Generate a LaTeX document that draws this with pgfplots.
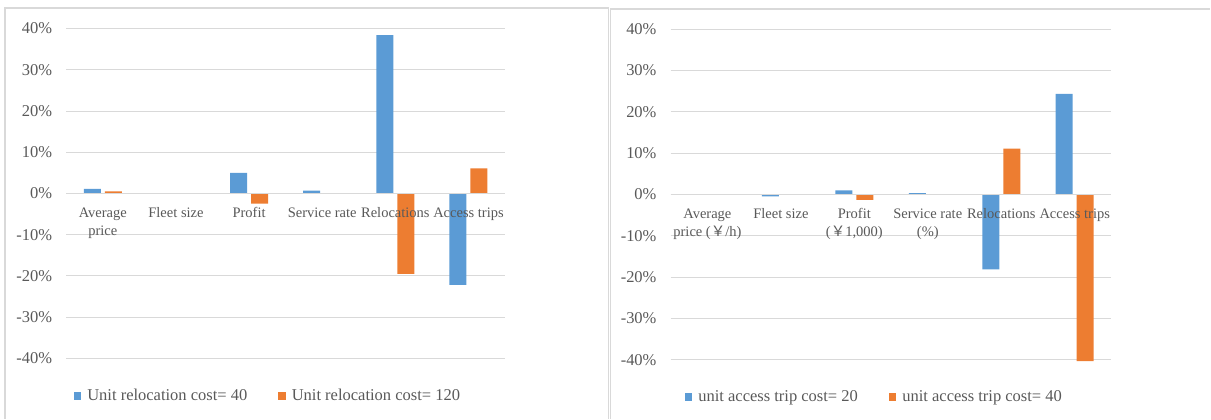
\documentclass[border=0pt]{standalone}
\usepackage{fontspec}
\setmainfont{Liberation Serif}
\newfontfamily\cjk{Noto Sans CJK SC}
\usepackage{pgfplots}
\pgfplotsset{compat=1.18}
\usepackage{pgfplotstable}

\definecolor{barblue}{HTML}{5B9BD5}
\definecolor{barorange}{HTML}{ED7D31}
\definecolor{gridgray}{HTML}{D9D9D9}
\definecolor{textgray}{HTML}{595959}
\definecolor{framegray}{HTML}{D9D9D9}

% horizontal gridlines behind the bars
\tikzset{hgrid/.style={gridgray, line width=0.75bp}}

% Percentage change of each indicator, relocation cost scenarios
\pgfplotstableread{
idx a b
0 1.1 0.5
1 0 0
2 5.0 -2.5
3 0.65 0
4 38.4 -19.5
5 -22.2 6.1
}\relocdata

% Percentage change of each indicator, access trip cost scenarios
\pgfplotstableread{
idx a b
0 0 0
1 -0.5 0
2 1.0 -1.3
3 0.3 0
4 -18.1 11.1
5 24.3 -40.3
}\accessdata

\pgfplotsset{
  deltastyle/.style={
    axis on top,
    scale only axis,
    ybar=4bp, bar width=17bp,
    xmin=-0.5, xmax=5.5, ymin=-40, ymax=40,
    xtick={0,...,5}, ytick={-40,-30,...,40},
    yticklabels={-40\%,-30\%,-20\%,-10\%,0\%,10\%,20\%,30\%,40\%},
    axis x line*=middle, axis y line*=left,
    hide obscured y ticks=false, hide obscured x ticks=false,
    x axis line style={draw=gridgray, line width=0.75bp},
    y axis line style={draw=none},
    major tick length=0pt,
    tick label style={text=textgray},
    yticklabel style={font=\fontsize{16.5bp}{19bp}\selectfont, anchor=east, inner sep=0pt, xshift=-14bp},
    xticklabel style={font=\fontsize{14.5bp}{18bp}\selectfont, anchor=north, inner sep=0pt, yshift=-14bp, align=center},
    clip=false,
    legend columns=2,
    legend style={draw=none, fill=none, anchor=west,
      font=\fontsize{16.5bp}{19bp}\selectfont, text=textgray,
      nodes={inner sep=0pt},
      /tikz/every even column/.append style={column sep=31bp},
      /tikz/every odd column/.append style={column sep=6bp}},
    legend image code/.code={\fill[##1] (0bp,-4bp) rectangle (7.5bp,4bp);},
  },
}

\begin{document}
\begin{tikzpicture}
% page extent
\path (0bp,0bp) rectangle (1211bp,-419bp);
% panel frames, open at the bottom
\draw[framegray, line width=1.2bp] (5bp,-419bp) -- (5bp,-8bp) -- (609bp,-8bp) -- (609bp,-419bp);
\draw[framegray, line width=1.2bp] (611bp,-419bp) -- (611bp,-9bp) -- (1211bp,-9bp);

\begin{axis}[deltastyle,
  at={(66.3bp,-358.5bp)}, anchor=south west,
  width=439bp, height=330bp,
  xticklabels={{Average\\price},{Fleet size},{Profit},{Service rate},{Relocations},{Access trips}},
  legend style={at={(0.010,-0.114)}},
]
\pgfplotsinvokeforeach{-40,-30,...,40}{\draw[hgrid] (axis cs:-0.5,#1) -- (axis cs:5.5,#1);}
\addplot[fill=barblue, draw=none] table[x=idx, y=a] {\relocdata};
\addplot[fill=barorange, draw=none] table[x=idx, y=b] {\relocdata};
\legend{Unit relocation cost= 40, Unit relocation cost= 120}
\end{axis}

\begin{axis}[deltastyle,
  at={(671bp,-360bp)}, anchor=south west,
  width=441bp, height=331bp,
  xticklabels={{Average\\price ({\cjk ￥}/h)},{Fleet size},{Profit\\({\cjk ￥}1,000)},{Service rate\\(\%)},{Relocations},{Access trips}},
  legend style={at={(0.025,-0.112)}},
]
\pgfplotsinvokeforeach{-40,-30,...,40}{\draw[hgrid] (axis cs:-0.5,#1) -- (axis cs:5.5,#1);}
\addplot[fill=barblue, draw=none] table[x=idx, y=a] {\accessdata};
\addplot[fill=barorange, draw=none] table[x=idx, y=b] {\accessdata};
\legend{unit access trip cost= 20, unit access trip cost= 40}
\end{axis}
\end{tikzpicture}
\end{document}
